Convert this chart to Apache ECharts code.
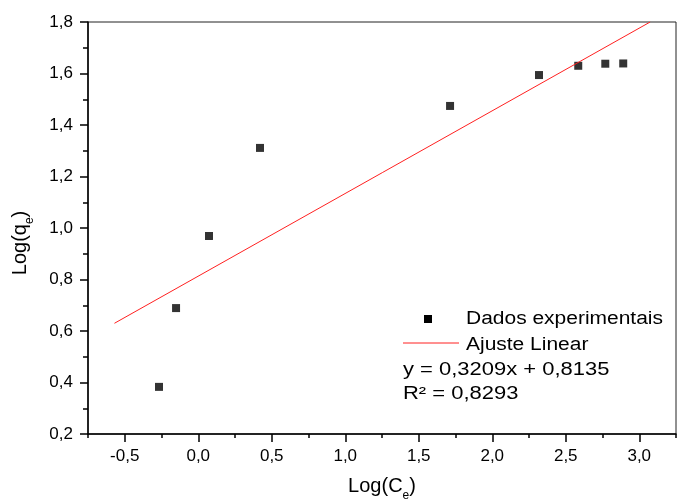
<!DOCTYPE html>
<html>
<head>
<meta charset="utf-8">
<script src="https://cdn.jsdelivr.net/npm/echarts@6/dist/echarts.min.js"></script>
<style>html,body{margin:0;padding:0;background:#fff}#c{width:678px;height:502px}</style>
</head>
<body>
<div id="c"></div>
<script>
var logCe = [-0.267, -0.151, 0.073, 0.420, 1.713, 2.318, 2.585, 2.769, 2.891];
var logQe = [0.383, 0.689, 0.969, 1.311, 1.474, 1.594, 1.630, 1.638, 1.639];
var fitX = [-0.57, 3.074];
var fitY = [0.630, 1.800];
var xTicks = [-0.5, 0, 0.5, 1.0, 1.5, 2.0, 2.5, 3.0];
var legendNames = ['Dados experimentais', 'Ajuste Linear'];
var equationText = 'y = 0,3209x + 0,8135';
var r2Text = 'R² = 0,8293';

var FONT = 'Liberation Sans, Arial, sans-serif';
function fmt(v){ return v.toFixed(1).replace('.', ','); }
var subStyle = {fontSize: 12, fontFamily: FONT, color: '#000', verticalAlign: 'bottom', padding: [20, 0, 0, 0]};

var chart = echarts.init(document.getElementById('c'), null, {renderer: 'canvas'});
var option = {
  backgroundColor: '#fff',
  animation: false,
  grid: {left: 88, top: 22, right: 2, bottom: 68, show: true, borderColor: '#222', borderWidth: 1, containLabel: false, outerBoundsMode: 'none'},
  xAxis: [{
    type: 'value', min: -0.75, max: 3.25, interval: 0.25,
    position: 'bottom',
    axisLine: {show: true, onZero: false, lineStyle: {color: '#000', width: 1.5}},
    axisTick: {show: true, length: 8, customValues: xTicks, lineStyle: {color: '#000', width: 1.5}},
    axisLabel: {customValues: xTicks, formatter: function(v){ return fmt(v); }, color: '#000', fontSize: 17, fontFamily: FONT, margin: 14},
    splitLine: {show: false},
    name: 'Log(C{s|e})', nameLocation: 'middle', nameGap: 36,
    nameTextStyle: {color: '#000', fontSize: 20, fontFamily: FONT, rich: {s: subStyle}}
  }, {
    type: 'value', min: -0.75, max: 3.25, interval: 0.25,
    position: 'bottom', gridIndex: 0,
    axisLine: {show: false, onZero: false},
    axisTick: {show: true, length: 4, lineStyle: {color: '#000', width: 1.5}},
    axisLabel: {show: false},
    splitLine: {show: false}
  }],
  yAxis: {
    type: 'value', min: 0.2, max: 1.8, interval: 0.2,
    axisLine: {show: true, onZero: false, lineStyle: {color: '#000', width: 1.5}},
    axisTick: {show: true, length: 8, lineStyle: {color: '#000', width: 1.5}},
    minorTick: {show: true, splitNumber: 2, length: 5, lineStyle: {color: '#000', width: 1.5}},
    axisLabel: {formatter: function(v){ return fmt(v); }, color: '#000', fontSize: 17, fontFamily: FONT, margin: 15},
    splitLine: {show: false},
    name: 'Log(q{s|e})', nameLocation: 'middle', nameGap: 52,
    nameTextStyle: {color: '#000', fontSize: 20, fontFamily: FONT, padding: [0, 30, 0, 0], rich: {s: subStyle}}
  },
  series: [{
    name: legendNames[0], type: 'scatter', xAxisIndex: 0,
    symbol: 'rect', symbolSize: 8,
    itemStyle: {color: '#000'},
    data: logCe.map(function(x, i){ return [x, logQe[i]]; })
  }, {
    name: legendNames[1], type: 'line', xAxisIndex: 0,
    symbol: 'none', lineStyle: {color: '#ff2020', width: 1},
    data: fitX.map(function(x, i){ return [x, fitY[i]]; })
  }],
  graphic: [
    {type: 'rect', shape: {x: 424, y: 315, width: 8, height: 8}, style: {fill: '#000'}},
    {type: 'text', x: 466, y: 319, scaleX: 1.165, style: {text: legendNames[0], font: '18px ' + FONT, fill: '#000', verticalAlign: 'middle'}},
    {type: 'line', shape: {x1: 403, y1: 343, x2: 459, y2: 343}, style: {stroke: '#ff2020', lineWidth: 1}},
    {type: 'text', x: 466, y: 345, scaleX: 1.165, style: {text: legendNames[1], font: '18px ' + FONT, fill: '#000', verticalAlign: 'middle'}},
    {type: 'text', x: 403, y: 370, scaleX: 1.22, style: {text: equationText, font: '18px ' + FONT, fill: '#000', verticalAlign: 'middle'}},
    {type: 'text', x: 403, y: 394, scaleX: 1.22, style: {text: r2Text, font: '18px ' + FONT, fill: '#000', verticalAlign: 'middle'}}
  ]
};
chart.setOption(option);
</script>
</body>
</html>
